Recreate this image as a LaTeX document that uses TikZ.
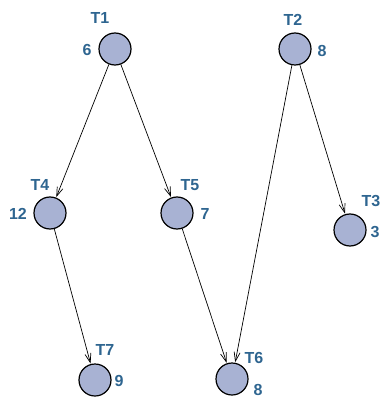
\documentclass[tikz,border=0pt]{standalone}
\usepackage{fontspec}
\setmainfont{Liberation Sans}
\usetikzlibrary{arrows.meta}
\definecolor{nodefill}{HTML}{A8B2D3}
\definecolor{lblcol}{HTML}{2E6590}
\tikzset{
  task/.style={circle, draw=black, fill=nodefill, line width=1.2pt, minimum size=32pt, inner sep=0pt},
  lbl/.style={text=lblcol, font=\fontsize{16}{18}\selectfont\bfseries, inner sep=0pt},
  dep/.style={-{Straight Barb[length=9pt,width=6pt]}, line width=0.7pt, shorten >=0.5pt}
}
\begin{document}
\begin{tikzpicture}[x=1pt,y=-1pt]
\useasboundingbox (0,0) rectangle (383,398);
\node[task] (t1) at (115,49) {};
\node[task] (t2) at (295,49) {};
\node[task] (t3) at (350,230) {};
\node[task] (t4) at (50,213) {};
\node[task] (t5) at (177,213) {};
\node[task] (t6) at (232,379) {};
\node[task] (t7) at (95,380) {};
\node[lbl] (l1) at (100,18) {T1};
\node[lbl] (w1) at (87,50) {6};
\node[lbl] (l2) at (293,20) {T2};
\node[lbl] (w2) at (322,51) {8};
\node[lbl] (l3) at (371,201) {T3};
\node[lbl] (w3) at (375,232) {3};
\node[lbl] (l4) at (40,185) {T4};
\node[lbl] (w4) at (18,214) {12};
\node[lbl] (l5) at (190,185) {T5};
\node[lbl] (w5) at (205,214) {7};
\node[lbl] (l6) at (254,358) {T6};
\node[lbl] (w6) at (258,390) {8};
\node[lbl] (l7) at (105,350) {T7};
\node[lbl] (w7) at (119,381) {9};
\draw[dep] (t1) -- (t4);
\draw[dep] (t1) -- (t5);
\draw[dep] (t2) -- (t6);
\draw[dep] (t2) -- (t3);
\draw[dep] (t4) -- (t7);
\draw[dep] (t5) -- (t6);
\end{tikzpicture}
\end{document}
